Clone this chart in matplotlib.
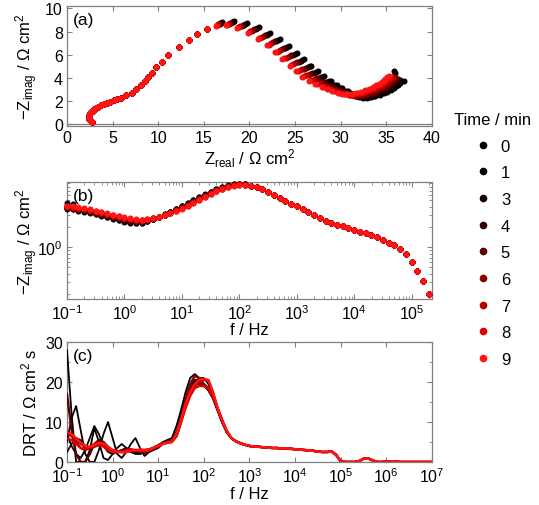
import numpy as np
import matplotlib
matplotlib.use("Agg")
import matplotlib.pyplot as plt
from matplotlib.lines import Line2D
from matplotlib.ticker import NullFormatter, LogLocator, MultipleLocator

plt.rcParams['font.family'] = ['Liberation Sans', 'DejaVu Sans']
plt.rcParams['mathtext.fontset'] = 'custom'
plt.rcParams['mathtext.rm'] = 'Liberation Sans'
plt.rcParams['mathtext.it'] = 'Liberation Sans:italic'
plt.rcParams['mathtext.bf'] = 'Liberation Sans:bold'

# --- data -------------------------------------------------------------
times = [0, 1, 3, 4, 5, 6, 7, 8, 9]
colors = ['#000000', '#080000', '#140000', '#300000', '#5c0000',
          '#880000', '#b30000', '#e00000', '#ff1414']

# EIS frequencies, 10 points per decade, 0.1 Hz .. 2e5 Hz
freq_eis = np.logspace(-1, 5.3, 64)

# low-frequency part (0.1 Hz .. 126 Hz), rows = frequency, columns = times
zre_lf = [
    [36.9, 35.8, 36.5, 36.3, 36.1, 35.9, 35.7, 35.5, 35.3],
    [36.0, 36.5, 36.3, 36.1, 35.9, 35.7, 35.5, 35.3, 35.1],
    [36.5, 36.3, 36.1, 35.9, 35.7, 35.5, 35.3, 35.1, 34.9],
    [36.3, 36.1, 35.9, 35.7, 35.5, 35.3, 35.1, 34.9, 34.7],
    [36.1, 35.9, 35.7, 35.5, 35.3, 35.1, 34.9, 34.7, 34.5],
    [35.8, 35.6, 35.4, 35.2, 35.0, 34.8, 34.6, 34.4, 34.2],
    [35.5, 35.3, 35.1, 34.9, 34.7, 34.5, 34.3, 34.1, 33.9],
    [35.1, 34.9, 34.7, 34.5, 34.3, 34.1, 33.9, 33.7, 33.5],
    [34.7, 34.5, 34.3, 34.1, 33.9, 33.7, 33.5, 33.3, 33.1],
    [34.3, 34.1, 33.9, 33.7, 33.5, 33.3, 33.1, 32.9, 32.7],
    [33.8, 33.6, 33.4, 33.2, 33.0, 32.8, 32.6, 32.4, 32.2],
    [33.3, 33.1, 32.9, 32.7, 32.5, 32.3, 32.1, 31.9, 31.7],
    [32.9, 32.7, 32.5, 32.3, 32.05, 31.85, 31.6, 31.4, 31.2],
    [32.4, 32.2, 32.0, 31.8, 31.55, 31.35, 31.1, 30.9, 30.7],
    [31.9, 31.7, 31.5, 31.3, 31.05, 30.85, 30.6, 30.4, 30.2],
    [31.4, 31.2, 31.0, 30.8, 30.55, 30.35, 30.1, 29.9, 29.7],
    [30.8, 30.6, 30.4, 30.2, 29.95, 29.75, 29.5, 29.3, 29.1],
    [30.2, 30.0, 29.8, 29.6, 29.35, 29.15, 28.9, 28.7, 28.5],
    [29.6, 29.4, 29.2, 29.0, 28.75, 28.55, 28.3, 28.1, 27.9],
    [28.9, 28.7, 28.5, 28.3, 28.05, 27.85, 27.6, 27.4, 27.2],
    [28.2, 28.0, 27.8, 27.6, 27.35, 27.15, 26.9, 26.7, 26.5],
    [27.5, 27.3, 27.1, 26.9, 26.65, 26.45, 26.2, 26.0, 25.8],
    [26.8, 26.6, 26.4, 26.2, 25.95, 25.75, 25.5, 25.3, 25.1],
    [26.0, 25.8, 25.6, 25.4, 25.2, 25.0, 24.8, 24.6, 24.4],
    [25.2, 25.0, 24.8, 24.6, 24.4, 24.2, 24.0, 23.8, 23.6],
    [24.3, 24.1, 23.9, 23.75, 23.55, 23.35, 23.2, 23.0, 22.8],
    [23.3, 23.1, 22.95, 22.8, 22.6, 22.4, 22.25, 22.1, 21.9],
    [22.2, 22.05, 21.9, 21.7, 21.55, 21.4, 21.2, 21.05, 20.9],
    [21.0, 20.85, 20.7, 20.55, 20.4, 20.25, 20.1, 19.95, 19.8],
    [19.7, 19.55, 19.4, 19.3, 19.15, 19.0, 18.9, 18.75, 18.6],
    [18.3, 18.2, 18.1, 17.95, 17.85, 17.75, 17.6, 17.5, 17.4],
    [17.0, 16.9, 16.8, 16.75, 16.65, 16.55, 16.5, 16.4, 16.3],
]
zim_lf = [
    [3.7, 4.6, 3.85, 3.9, 3.95, 4.0, 4.05, 4.1, 4.15],
    [4.4, 3.7, 3.75, 3.8, 3.85, 3.9, 3.95, 4.0, 4.05],
    [3.52, 3.57, 3.62, 3.67, 3.72, 3.77, 3.82, 3.87, 3.92],
    [3.4, 3.45, 3.5, 3.55, 3.6, 3.65, 3.7, 3.75, 3.8],
    [3.25, 3.3, 3.35, 3.4, 3.45, 3.5, 3.55, 3.6, 3.65],
    [3.1, 3.15, 3.2, 3.25, 3.3, 3.35, 3.4, 3.45, 3.5],
    [2.95, 3.0, 3.05, 3.1, 3.15, 3.2, 3.25, 3.3, 3.35],
    [2.8, 2.85, 2.9, 2.95, 3.0, 3.05, 3.1, 3.15, 3.2],
    [2.65, 2.7, 2.75, 2.8, 2.85, 2.9, 2.95, 3.0, 3.05],
    [2.52, 2.57, 2.62, 2.67, 2.72, 2.77, 2.82, 2.87, 2.92],
    [2.4, 2.45, 2.5, 2.55, 2.6, 2.65, 2.7, 2.75, 2.8],
    [2.3, 2.35, 2.4, 2.45, 2.5, 2.55, 2.6, 2.65, 2.7],
    [2.27, 2.32, 2.36, 2.4, 2.44, 2.49, 2.53, 2.58, 2.62],
    [2.28, 2.32, 2.36, 2.39, 2.43, 2.47, 2.5, 2.54, 2.58],
    [2.43, 2.46, 2.48, 2.51, 2.53, 2.56, 2.58, 2.61, 2.63],
    [2.62, 2.63, 2.65, 2.66, 2.67, 2.68, 2.7, 2.71, 2.72],
    [2.85, 2.85, 2.85, 2.85, 2.85, 2.85, 2.85, 2.85, 2.85],
    [3.1, 3.09, 3.07, 3.06, 3.05, 3.04, 3.02, 3.01, 3.0],
    [3.4, 3.37, 3.35, 3.32, 3.3, 3.27, 3.25, 3.22, 3.2],
    [3.75, 3.71, 3.67, 3.64, 3.6, 3.56, 3.53, 3.49, 3.45],
    [4.15, 4.1, 4.05, 4.0, 3.95, 3.9, 3.85, 3.8, 3.75],
    [4.55, 4.5, 4.44, 4.38, 4.32, 4.27, 4.21, 4.16, 4.1],
    [5.05, 4.99, 4.93, 4.86, 4.8, 4.74, 4.67, 4.61, 4.55],
    [5.6, 5.53, 5.46, 5.39, 5.33, 5.26, 5.19, 5.12, 5.05],
    [6.15, 6.08, 6.01, 5.94, 5.88, 5.81, 5.74, 5.67, 5.6],
    [6.75, 6.68, 6.61, 6.54, 6.48, 6.41, 6.34, 6.27, 6.2],
    [7.35, 7.28, 7.21, 7.14, 7.08, 7.01, 6.94, 6.87, 6.8],
    [7.85, 7.79, 7.73, 7.66, 7.6, 7.54, 7.47, 7.41, 7.35],
    [8.35, 8.3, 8.24, 8.18, 8.12, 8.07, 8.01, 7.96, 7.9],
    [8.7, 8.65, 8.6, 8.55, 8.5, 8.45, 8.4, 8.35, 8.3],
    [8.9, 8.86, 8.81, 8.77, 8.73, 8.68, 8.64, 8.59, 8.55],
    [8.8, 8.76, 8.72, 8.69, 8.65, 8.61, 8.58, 8.54, 8.5],
]
# high-frequency part (158 Hz .. 2e5 Hz), same for all times
zre_hf = [15.3, 14.2, 13.4, 12.3, 11.1, 10.4, 9.8, 9.3, 8.9, 8.5,
          8.1, 7.6, 7.1, 6.5, 5.9, 5.5, 5.1, 4.7, 4.35, 4.05,
          3.75, 3.45, 3.2, 3.0, 2.8, 2.65, 2.52, 2.42, 2.38, 2.42,
          2.55, 2.75]
zim_hf = [8.2, 7.8, 7.3, 6.7, 6.0, 5.4, 4.9, 4.45, 4.05, 3.7,
          3.35, 3.0, 2.68, 2.47, 2.28, 2.15, 2.04, 1.92, 1.81, 1.71,
          1.62, 1.50, 1.40, 1.29, 1.17, 1.07, 0.93, 0.79, 0.61, 0.44,
          0.31, 0.20]

# DRT, 10 points per decade, 0.1 Hz .. 1e7 Hz
freq_drt = np.logspace(-1, 7, 81)
drt_lf = {   # 0.1 Hz .. 1 kHz
    0: [28, 12, 0, 0, 0, 3, 8.5, 5, 1, 0.5, 2, 3.5, 4.5, 3.5, 2.5, 2, 2, 2.5, 3, 3.5,
        4, 5, 5.5, 6, 9, 13, 17.5, 21, 22, 21, 19.5, 18, 16, 13, 10, 7.5, 6, 5.2, 4.7, 4.3, 4.0],
    1: [5, 11, 14, 8, 2, 0, 0, 3, 7, 10, 6, 2, 1, 2.5, 4.5, 6, 3.5, 1.5, 2.5, 3.5,
        4, 4.5, 5, 5.5, 7, 10.5, 14.5, 18, 20, 21, 21, 19.5, 17, 13.5, 10.5, 7.8, 6, 5.2, 4.7, 4.3, 4.0],
    3: [7, 4, 2, 1, 3, 6, 9, 7, 4, 2.5, 2, 2.5, 3, 3.5, 3, 2.5, 2.2, 2.2, 2.5, 3,
        3.5, 4.5, 5, 5, 7.5, 11.5, 16, 19.5, 20.5, 20, 19, 18, 16, 13, 10, 7.5, 6, 5.2, 4.7, 4.3, 4.0],
    4: [2.5, 4.5, 6, 5.5, 4, 3.2, 4, 4.8, 4.5, 3.5, 2.7, 2.6, 3, 3.2, 2.9, 2.6, 2.5, 2.7, 3, 3.6,
        4.2, 4.8, 5.2, 5.3, 7, 10.5, 15, 18.5, 20.5, 20.5, 19.5, 18, 16, 13, 10, 7.5, 6, 5.2, 4.7, 4.3, 4.0],
    5: [17, 8, 2, 0, 0, 2, 4.5, 5.5, 5, 3.8, 2.8, 2.5, 2.7, 3, 3, 2.8, 2.6, 2.6, 2.9, 3.4,
        4, 4.6, 5, 5.2, 6.5, 10, 14.5, 18, 19.5, 19.5, 19.5, 18.5, 16.5, 13.5, 10.5, 7.8, 6, 5.2, 4.7, 4.3, 4.0],
    6: [7.5, 6.5, 5, 3.5, 3, 3.5, 4.5, 4.8, 4.3, 3.5, 2.8, 2.5, 2.6, 2.8, 2.9, 2.8, 2.6, 2.7, 3, 3.5,
        4.2, 4.8, 5, 5.3, 7.5, 11, 15.5, 19.5, 21.5, 21, 19.5, 18, 16, 13, 10, 7.5, 6, 5.2, 4.7, 4.3, 4.0],
    7: [7, 6.5, 5.5, 4.5, 3.8, 3.5, 3.8, 4.2, 4, 3.5, 3, 2.7, 2.5, 2.5, 2.7, 2.9, 3, 3, 3.2, 3.6,
        4.1, 4.6, 4.9, 5, 6.5, 10, 14, 17, 19, 20, 20.5, 20.5, 17.5, 13.5, 10.5, 7.8, 6, 5.2, 4.7, 4.3, 4.0],
    8: [6, 5.5, 4.5, 3.5, 3.3, 3.8, 4.5, 4.5, 3.8, 3, 2.5, 2.4, 2.6, 3, 3.2, 3, 2.7, 2.6, 2.9, 3.4,
        4, 4.5, 4.8, 5, 6.5, 10, 13.5, 16.5, 18.5, 19, 19, 18.5, 16.5, 13.5, 10.5, 7.8, 6, 5.2, 4.7, 4.3, 4.0],
    9: [7.5, 7, 6, 4.8, 4, 3.8, 4.2, 4.8, 4.6, 3.8, 3, 2.6, 2.4, 2.5, 2.8, 3, 3.1, 3, 3.1, 3.5,
        4, 4.5, 4.8, 5, 7, 10.5, 14.5, 17.5, 19.5, 20.5, 20.8, 20.5, 17.5, 13.5, 10.5, 7.8, 6, 5.2, 4.7, 4.3, 4.0],
}
drt_hf = [3.9, 3.8, 3.7, 3.6, 3.5, 3.5, 3.4, 3.4, 3.3, 3.2,
          3.1, 3.0, 2.9, 2.8, 2.6, 2.5, 2.5, 2.6, 1.8, 0.2,
          0, 0, 0, 0.2, 0.8, 0.9, 0.4, 0, 0, 0.1,
          0.15, 0.1, 0, 0, 0, 0, 0, 0, 0, 0]

# --- figure -------------------------------------------------------------
fig = plt.figure(figsize=(5.39, 5.06), dpi=100)
ax_a = fig.add_axes([0.1243, 0.749, 0.677, 0.237])
ax_b = fig.add_axes([0.1243, 0.407, 0.677, 0.231])
ax_c = fig.add_axes([0.1243, 0.085, 0.677, 0.237])

edge = '#808080'
for ax in (ax_a, ax_b, ax_c):
    for s in ax.spines.values():
        s.set_color(edge)
        s.set_linewidth(0.9)
    ax.tick_params(which='both', direction='in', top=True, right=True,
                   color=edge, labelsize=11.5, pad=3)
    ax.tick_params(which='major', length=3.5)
    ax.tick_params(which='minor', length=2)

ylab = '\u2212Z$_{\\mathrm{imag}}$ / \u03a9 cm$^{2}$'

for j, t in enumerate(times):
    zre = [row[j] for row in zre_lf] + zre_hf
    zim = [row[j] for row in zim_lf] + zim_hf
    ax_a.scatter(zre, zim, s=19, color=colors[j], linewidths=0, zorder=3)
    ax_b.scatter(freq_eis, zim, s=19, color=colors[j], linewidths=0, zorder=3, clip_on=False)
    lw = 1.3 if j < 4 else 1.7
    ax_c.plot(freq_drt, drt_lf[t] + drt_hf, color=colors[j], lw=lw, zorder=3)

# (a) Nyquist
ax_a.axhline(0, color=edge, lw=0.9)
ax_a.set_xlim(0, 40)
ax_a.set_ylim(-0.17, 10.2)
ax_a.xaxis.set_major_locator(MultipleLocator(5))
ax_a.yaxis.set_major_locator(MultipleLocator(2))
ax_a.set_xlabel('Z$_{\\mathrm{real}}$ / \u03a9 cm$^{2}$', fontsize=12, labelpad=1)
ax_a.set_ylabel(ylab, fontsize=12)
ax_a.yaxis.set_label_coords(-0.075, 0.5)
ax_a.text(0.015, 0.95, '(a)', transform=ax_a.transAxes, fontsize=12.5, va='top')

# (b) Bode, imaginary part
ax_b.set_xscale('log')
ax_b.set_yscale('log')
ax_b.set_xlim(0.1, 2.25e5)
ax_b.set_ylim(0.168, 9.33)
ax_b.xaxis.set_major_locator(LogLocator(base=10, numticks=20))
ax_b.yaxis.set_minor_formatter(NullFormatter())
ax_b.set_xlabel('f / Hz', fontsize=12, labelpad=0)
ax_b.set_ylabel(ylab, fontsize=12)
ax_b.yaxis.set_label_coords(-0.075, 0.5)
ax_b.text(0.015, 0.95, '(b)', transform=ax_b.transAxes, fontsize=12.5, va='top')

# (c) DRT
ax_c.set_xscale('log')
ax_c.set_xlim(0.1, 1e7)
ax_c.set_ylim(0, 30)
ax_c.xaxis.set_major_locator(LogLocator(base=10, numticks=20))
ax_c.yaxis.set_major_locator(MultipleLocator(10))
ax_c.yaxis.set_minor_locator(MultipleLocator(5))
ax_c.set_xlabel('f / Hz', fontsize=12, labelpad=1)
ax_c.set_ylabel('DRT / \u03a9 cm$^{2}$ s', fontsize=12)
ax_c.yaxis.set_label_coords(-0.075, 0.5)
ax_c.text(0.015, 0.95, '(c)', transform=ax_c.transAxes, fontsize=12.5, va='top')

handles = [Line2D([], [], ls='', marker='o', markersize=4.5, color=c) for c in colors]
fig.legend(handles, [str(t) for t in times], title='Time / min', loc='upper left',
           bbox_to_anchor=(0.82, 0.80), frameon=False, fontsize=12, title_fontsize=12,
           labelspacing=0.7, handletextpad=0.6, handlelength=1.0, borderpad=0.2)

fig.savefig('out.png', dpi=100)
